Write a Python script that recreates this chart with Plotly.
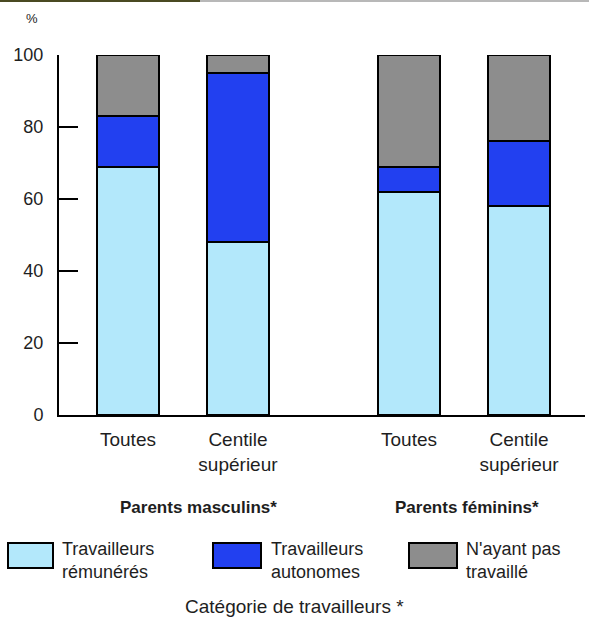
import plotly.graph_objects as go

# Bar positions along the x axis (two groups of two bars)
positions = [0.0, 1.0, 2.555, 3.555]
bar_labels = ["Toutes", "Centile<br>supérieur", "Toutes", "Centile<br>supérieur"]

# Share of workers (%) by category, stacked bottom to top
remuneres = [69, 48, 62, 58]
autonomes = [14, 47, 7, 18]
sans_travail = [17, 5, 31, 24]

series_names = ["Travailleurs<br>rémunérés", "Travailleurs<br>autonomes", "N'ayant pas<br>travaillé"]
series_values = [remuneres, autonomes, sans_travail]
series_colors = ["#b3e8fb", "#2240f0", "#8d8d8d"]

group_names = ["Parents masculins*", "Parents féminins*"]
group_centers = [0.64, 3.08]

y_ticks = [0, 20, 40, 60, 80, 100]

W, H = 589, 624
ML, MR, MT, MB = 59, 4, 55, 209
PW, PH = W - ML - MR, H - MT - MB

FONT = "Liberation Sans, Arial, Helvetica, sans-serif"
TXT = "#1e1e1e"


def px(xp):
    return (xp - ML) / PW


def py(yp):
    return (H - MB - yp) / PH


fig = go.Figure()
for name, vals, col in zip(series_names, series_values, series_colors):
    fig.add_trace(go.Bar(
        x=positions, y=vals, name=name, width=0.564,
        marker=dict(color=col, line=dict(color="#000000", width=2)),
        showlegend=False, hoverinfo="y",
    ))

annotations = []
# Group labels under the tick labels
for g, c in zip(group_names, group_centers):
    annotations.append(dict(
        x=c, xref="x", y=py(507), yref="paper", text="<b>" + g + "</b>",
        showarrow=False, xanchor="center", yanchor="middle",
        font=dict(family=FONT, size=17, color=TXT),
    ))

# Hand-built legend: swatch boxes and two-line labels
shapes = []
legend_boxes = [(8, 53), (213, 261), (409, 457)]
legend_text_x = [60, 269, 464]
for (x0, x1), tx, name, col in zip(legend_boxes, legend_text_x, series_names, series_colors):
    shapes.append(dict(
        type="rect", xref="paper", yref="paper",
        x0=px(x0), x1=px(x1), y0=py(568), y1=py(543),
        fillcolor=col, line=dict(color="#000000", width=2),
    ))
    annotations.append(dict(
        x=px(tx), xref="paper", y=py(537), yref="paper", text=name,
        showarrow=False, xanchor="left", yanchor="top", align="left",
        font=dict(family=FONT, size=18, color=TXT),
    ))

annotations.append(dict(
    x=px(294), xref="paper", y=py(606), yref="paper",
    text="Catégorie de travailleurs *", showarrow=False,
    xanchor="center", yanchor="middle",
    font=dict(family=FONT, size=19, color=TXT),
))
annotations.append(dict(
    x=px(32), xref="paper", y=py(19), yref="paper", text="%",
    showarrow=False, xanchor="center", yanchor="middle",
    font=dict(family=FONT, size=13, color=TXT),
))

# Rule along the top edge
shapes.append(dict(type="line", xref="paper", yref="paper",
                   x0=px(0), x1=px(200), y0=py(1), y1=py(1),
                   line=dict(color="#4a4a22", width=2)))
shapes.append(dict(type="line", xref="paper", yref="paper",
                   x0=px(200), x1=px(589), y0=py(1), y1=py(1),
                   line=dict(color="#b8b8b8", width=2)))

fig.update_layout(
    width=W, height=H,
    margin=dict(l=ML, r=MR, t=MT, b=MB, pad=0),
    paper_bgcolor="white", plot_bgcolor="white",
    barmode="stack", bargap=0,
    font=dict(family=FONT, color=TXT),
    xaxis=dict(
        range=[-0.627, 4.155], tickvals=positions, ticktext=bar_labels,
        showgrid=False, zeroline=False, showline=True,
        linecolor="#000000", linewidth=2, ticks="",
        tickfont=dict(family=FONT, size=19, color=TXT),
        ticklabelstandoff=6,
    ),
    yaxis=dict(
        range=[0, 100], tickvals=y_ticks,
        showgrid=False, zeroline=False, showline=True,
        linecolor="#000000", linewidth=2,
        ticks="inside", ticklen=19, tickwidth=2, tickcolor="#000000",
        tickfont=dict(family=FONT, size=18, color=TXT),
        ticklabelstandoff=10,
    ),
    shapes=shapes, annotations=annotations,
)

fig.write_html("out.html")
